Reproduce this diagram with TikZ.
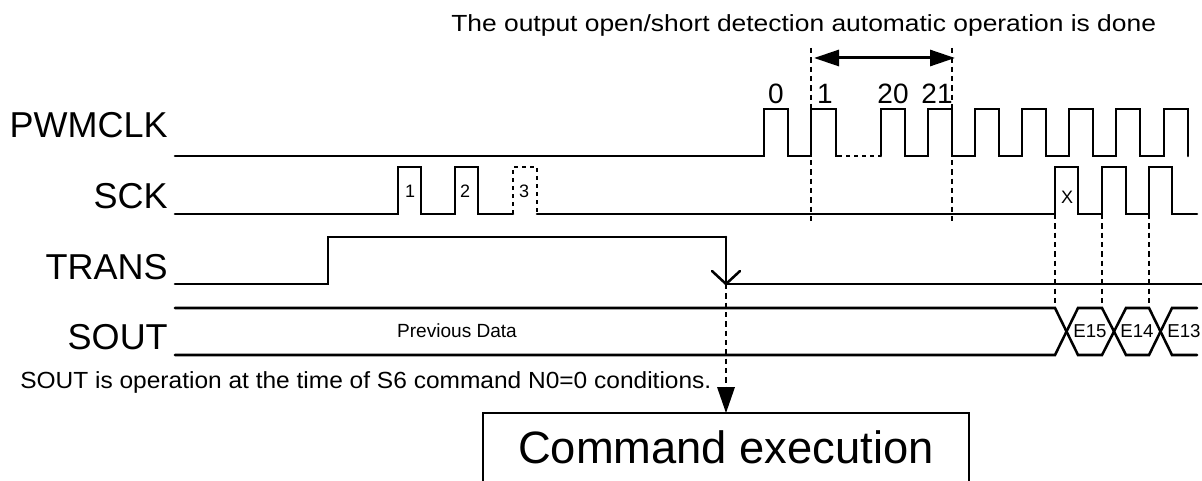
\documentclass[tikz,border=0pt]{standalone}
\usepackage{fontspec}
\setmainfont{Liberation Sans}
\usetikzlibrary{arrows.meta}
\tikzset{
  wave/.style={line width=1.9pt,line cap=round,line join=miter},
  dashline/.style={line width=1.9pt,dash pattern=on 4pt off 3pt},
  dotline/.style={line width=1.9pt,dash pattern=on 3pt off 3pt},
  lbl/.style={inner sep=0pt,font=\fontsize{27}{27}\selectfont,anchor=base east},
  txt/.style={inner sep=0pt,font=\fontsize{17.5}{17.5}\selectfont,anchor=base west},
  num/.style={inner sep=0pt,font=\fontsize{21}{21}\selectfont,anchor=base},
  tiny/.style={inner sep=0pt,font=\fontsize{13.5}{13.5}\selectfont,anchor=base},
  dat/.style={inner sep=0pt,font=\fontsize{14}{14}\selectfont,anchor=base},
  dhead/.style={{Triangle[length=18.75pt,width=12pt]}-{Triangle[length=18.75pt,width=12pt]}},
}
\begin{document}
\begin{tikzpicture}[x=0.75pt,y=-0.75pt]
\useasboundingbox (0,0) rectangle (1202,481);
% labels
\node[txt] (title) at (451,32) {\addfontfeature{FakeStretch=1.132}The output open/short detection automatic operation is done};
\node[lbl] (lpwm) at (168,138) {PWMCLK};
\node[lbl] (lsck) at (168,208) {SCK};
\node[lbl] (ltrans) at (168,279) {TRANS};
\node[lbl] (lsout) at (168,349) {SOUT};
\node[txt] (note) at (20,388) {\addfontfeature{FakeStretch=1.05}SOUT is operation at the time of S6 command N0=0 conditions.};
% PWMCLK
\draw[wave] (175,156) -- (764,156) |- (788,109) |- (811,156) |- (836,109) |- (838,156);
\draw[dotline] (838,156) -- (881,156);
\draw[wave] (881,156) |- (905,109) |- (928,156) |- (952,109) |- (975,156) |- (999,109) |- (1022,156) |- (1046,109) |- (1069,156) |- (1093,109) |- (1116,156) |- (1140,109) |- (1164,156) |- (1188,109) -- (1188,156);
\node[num] (n0) at (776,104) {0};
\node[num] (n1) at (825,104) {1};
\node[num] (n20) at (893,104) {20};
\node[num] (n21) at (937,104) {21};
% SCK
\draw[wave] (175,214) -- (398,214) |- (421,167) |- (455,214) |- (478,167) |- (513,214);
\draw[dotline] (513,214) |- (537,167) -- (537,214);
\draw[wave] (537,214) -- (1055,214) |- (1078,167) |- (1102,214) |- (1126,167) |- (1149,214) |- (1172,167) |- (1197,214);
\node[tiny] (p1) at (410,197) {1};
\node[tiny] (p2) at (465,197) {2};
\node[tiny] (p3) at (524,197) {3};
\node[tiny] (px) at (1067,203) {X};
% TRANS
\draw[wave] (175,284) -- (328,284) |- (726,237);
\coordinate (tf) at (726,284);
\draw[wave] (726,237) -- (tf);
\draw[wave] (tf) -- (1202,284);
\draw[wave] (712,271) -- (tf) -- (740,271);
% SOUT
\draw[wave] (175,308) -- (1055,308) -- (1078,355) -- (1102,355) -- (1126,308) -- (1149,308) -- (1172,355) -- (1197,355);
\draw[wave] (175,355) -- (1055,355) -- (1078,308) -- (1102,308) -- (1126,355) -- (1149,355) -- (1172,308) -- (1197,308);
\node[tiny,font=\fontsize{14.3}{14.3}\selectfont] (prev) at (457,337) {Previous Data};
\node[dat] (e15) at (1090,337) {E15};
\node[dat] (e14) at (1137,337) {E14};
\node[dat] (e13) at (1184,337) {E13};
% detection window
\coordinate (wa) at (811,48);
\coordinate (wb) at (811,223);
\coordinate (wc) at (952,48);
\coordinate (wd) at (952,223);
\draw[dashline] (wa) -- (wb);
\draw[dashline] (wc) -- (wd);
\coordinate (aa) at (814,58);
\coordinate (ab) at (955,58);
\draw[line width=2.25pt,dhead] (aa) -- (ab);
% SCK to SOUT
\foreach \x/\n in {1055/a,1102/b,1149/c}{
  \coordinate (s\n) at (\x,214);
  \coordinate (t\n) at (\x,308);
  \draw[dashline] (s\n) -- (t\n);
}
% command box
\draw[wave,line cap=butt] (483,481) |- (969,413) -- (969,481);
\node[inner sep=0pt,font=\fontsize{34}{34}\selectfont,anchor=base] (cmd) at (726,463) {Command execution};
\coordinate (ctop) at (726,413);
\draw[dashline] (tf) -- (726,390);
\fill (717,387) -- (735,387) -- (ctop) -- cycle;
\end{tikzpicture}
\end{document}
